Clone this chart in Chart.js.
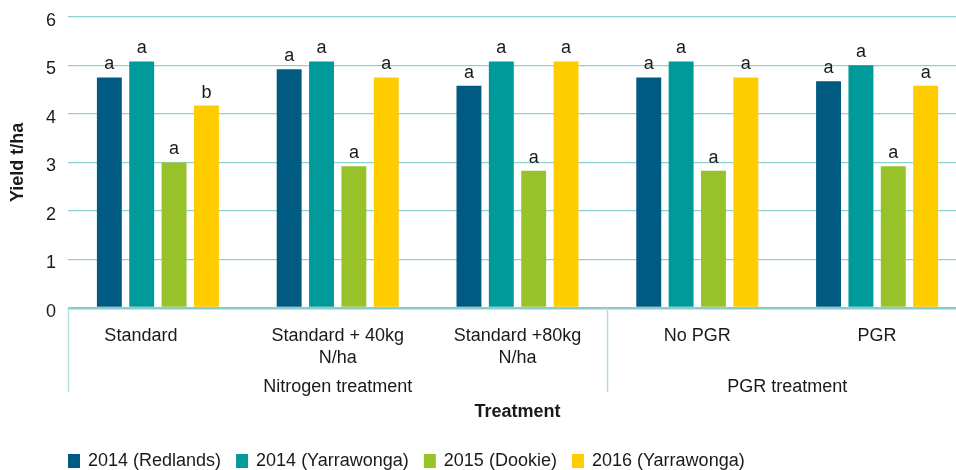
<!DOCTYPE html>
<html><head><meta charset="utf-8">
<script src="https://cdn.jsdelivr.net/npm/chart.js@4/dist/chart.umd.min.js"></script>
<style>
html,body{margin:0;padding:0;background:#fff;overflow:hidden;width:956px;height:470px;}
#wrap{position:relative;top:-6px;width:970px;height:476px;}
</style></head>
<body><div id="wrap"><canvas id="c"></canvas></div>
<script>
const categories = [['Standard'], ['Standard + 40kg', 'N/ha'], ['Standard +80kg', 'N/ha'], ['No PGR'], ['PGR']];
const groupLabels = ['Nitrogen treatment', 'PGR treatment'];
const groupSizes = [3, 2];
const seriesNames = ['2014 (Redlands)', '2014 (Yarrawonga)', '2015 (Dookie)', '2016 (Yarrawonga)'];
const redlands2014 = [4.75, 4.92, 4.58, 4.75, 4.67];
const yarrawonga2014 = [5.08, 5.08, 5.08, 5.08, 5.0];
const dookie2015 = [3.0, 2.92, 2.83, 2.83, 2.92];
const yarrawonga2016 = [4.17, 4.75, 5.08, 4.75, 4.58];
const letters = [
  ['a','a','a','a','a'],
  ['a','a','a','a','a'],
  ['a','a','a','a','a'],
  ['b','a','a','a','a']
];
const yTicks = [0, 1, 2, 3, 4, 5, 6];
const colors = ['#005a82', '#009a9a', '#98c22a', '#ffcc00'];

const FONT = '"Liberation Sans", Arial, sans-serif';
const TXT = '#1a1a1a';
const labelShift = [-17, 0, 0, 0, 0];

const extras = {
  id: 'extras',
  afterDatasetsDraw(chart) {
    const ctx = chart.ctx;
    ctx.save();
    ctx.fillStyle = TXT;
    ctx.font = '18px ' + FONT;
    ctx.textAlign = 'center';
    ctx.textBaseline = 'alphabetic';
    chart.data.datasets.forEach((ds, i) => {
      chart.getDatasetMeta(i).data.forEach((bar, j) => {
        ctx.fillText(letters[i][j], bar.x, bar.y - 8);
      });
    });
    ctx.restore();
  },
  afterDraw(chart) {
    const ctx = chart.ctx;
    const xs = chart.scales.x;
    const ca = chart.chartArea;
    const step = xs.getPixelForValue(1) - xs.getPixelForValue(0);
    ctx.save();
    ctx.strokeStyle = '#b3dfdf';
    ctx.lineWidth = 1.5;
    let idx = 0;
    const bounds = [xs.getPixelForValue(0) - step / 2];
    groupSizes.forEach(n => { idx += n; bounds.push(xs.getPixelForValue(idx - 1) + step / 2); });
    bounds.forEach(b => {
      ctx.beginPath(); ctx.moveTo(Math.round(b) + 0.5, ca.bottom); ctx.lineTo(Math.round(b) + 0.5, ca.bottom + 84); ctx.stroke();
    });
    ctx.fillStyle = TXT;
    ctx.font = '18px ' + FONT;
    ctx.textAlign = 'center';
    ctx.textBaseline = 'middle';
    categories.forEach((lines, j) => {
      const x = xs.getPixelForValue(j) + labelShift[j];
      lines.forEach((ln, k) => ctx.fillText(ln, x, ca.bottom + 28 + k * 22));
    });
    groupLabels.forEach((g, k) => {
      ctx.fillText(g, (bounds[k] + bounds[k + 1]) / 2, ca.bottom + 79);
    });
    ctx.font = 'bold 18px ' + FONT;
    ctx.fillText('Treatment', (ca.left + ca.right) / 2, ca.bottom + 104);
    ctx.font = '18px ' + FONT;
    ctx.textAlign = 'left';
    let lx = 68;
    const ly = ca.bottom + 153;
    seriesNames.forEach((name, i) => {
      ctx.fillStyle = colors[i];
      ctx.fillRect(lx, ly - 7, 12, 14);
      ctx.fillStyle = TXT;
      ctx.fillText(name, lx + 20, ly);
      lx += 20 + ctx.measureText(name).width + 15;
    });
    ctx.restore();
  }
};

new Chart(document.getElementById('c'), {
  type: 'bar',
  data: {
    labels: categories.map(c => c.join(' ')),
    datasets: [redlands2014, yarrawonga2014, dookie2015, yarrawonga2016].map((d, i) => ({
      label: seriesNames[i], data: d, backgroundColor: colors[i],
      borderWidth: 0, categoryPercentage: 0.72, barPercentage: 0.77
    }))
  },
  options: {
    responsive: true, maintainAspectRatio: false, animation: false,
    devicePixelRatio: 1,
    layout: { padding: { top: 9, right: 3, left: 0, bottom: 0 } },
    plugins: { legend: { display: false }, tooltip: { enabled: false } },
    scales: {
      x: {
        ticks: { display: false }, grid: { display: false }, border: { display: false },
        afterFit: s => { s.height = 162; }
      },
      y: {
        min: 0, max: 6,
        afterBuildTicks: s => { s.ticks = yTicks.map(v => ({ value: v })); },
        afterFit: s => { s.width = 68; },
        ticks: { font: { family: FONT, size: 18 }, color: TXT, padding: 12, labelOffset: 4 },
        grid: {
          drawTicks: false,
          color: ctx => ctx.tick && ctx.tick.value === 0 ? '#88cccc' : '#8fd1d1',
          lineWidth: ctx => ctx.tick && ctx.tick.value === 0 ? 2.5 : 1.2
        },
        border: { display: false },
        title: { display: true, text: 'Yield t/ha', font: { family: FONT, size: 18, weight: 'bold' }, color: TXT, padding: { top: 7, bottom: 0 } }
      }
    }
  },
  plugins: [extras]
});
</script></body></html>
